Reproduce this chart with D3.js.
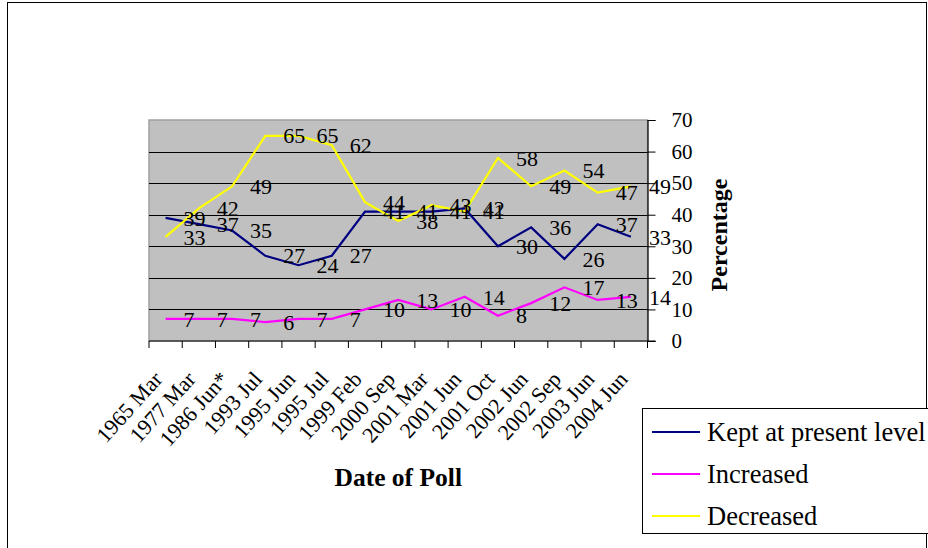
<!DOCTYPE html>
<html>
<head>
<meta charset="utf-8">
<script src="https://cdn.jsdelivr.net/npm/d3@7"></script>
<style>
html,body{margin:0;padding:0;background:#fff;}
svg{display:block;font-family:"Liberation Serif","Times New Roman",serif;}
</style>
</head>
<body>
<svg id="chart" width="928" height="548"></svg>
<script>
const categories = ["1965 Mar","1977 Mar","1986 Jun*","1993 Jul","1995 Jun","1995 Jul","1999 Feb","2000 Sep","2001 Mar","2001 Jun","2001 Oct","2002 Jun","2002 Sep","2003 Jun","2004 Jun"];
const kept      = [39,37,35,27,24,27,41,41,41,42,30,36,26,37,33];
const increased = [7,7,7,6,7,7,10,13,10,14,8,12,17,13,14];
const decreased = [33,42,49,65,65,62,44,38,43,41,58,49,54,47,49];
const yTicks = [0,10,20,30,40,50,60,70];
const seriesNames = ["Kept at present level","Increased","Decreased"];
const seriesColors = ["#000080","#ff00ff","#ffff00"];
const seriesData = [kept, increased, decreased];

const svg = d3.select("#chart");

// outer frame
svg.append("rect").attr("x",7.5).attr("y",2.5).attr("width",919).attr("height",600)
  .attr("fill","#fff").attr("stroke","#000").attr("stroke-width",1);

const plot = {left:149, right:647.5, top:120, bottom:341};
const x = d3.scaleBand().domain(categories).range([plot.left, plot.right]);
const y = d3.scaleLinear().domain([0,70]).range([plot.bottom, plot.top]);

// plot area
svg.append("rect").attr("x",plot.left).attr("y",plot.top)
  .attr("width",plot.right-plot.left).attr("height",plot.bottom-plot.top)
  .attr("fill","#c0c0c0").attr("stroke","#a0a0a0").attr("stroke-width",1.5);

// gridlines
svg.append("g").selectAll("line").data(yTicks.filter(t=>t>0 && t<70)).join("line")
  .attr("x1",plot.left).attr("x2",plot.right)
  .attr("y1",d=>Math.round(y(d))+0.5).attr("y2",d=>Math.round(y(d))+0.5)
  .attr("stroke","#000").attr("stroke-width",1);

// right y axis
const yAxis = d3.axisRight(y).tickValues(yTicks).tickSize(8).tickPadding(16);
const gy = svg.append("g").attr("transform",`translate(${plot.right},0)`).call(yAxis);
gy.select(".domain").attr("stroke","#000").attr("stroke-width",1.2);
gy.selectAll(".tick line").attr("stroke","#000");
gy.selectAll(".tick text").attr("font-size",21).attr("fill","#000")
  .attr("font-family","Liberation Serif, Times New Roman, serif");

// bottom x axis (ticks at band edges)
const bottomY = plot.bottom;
svg.append("line").attr("x1",plot.left).attr("x2",plot.right+8)
  .attr("y1",bottomY).attr("y2",bottomY).attr("stroke","#000").attr("stroke-width",1.2);
const edges = categories.map(c=>x(c)).concat([x(categories[categories.length-1])+x.bandwidth()]);
svg.append("g").selectAll("line").data(edges).join("line")
  .attr("x1",d=>d).attr("x2",d=>d).attr("y1",bottomY).attr("y2",bottomY+7)
  .attr("stroke","#000").attr("stroke-width",1);

// x tick labels
svg.append("g").selectAll("text").data(categories).join("text")
  .attr("transform",d=>`translate(${x(d)+x.bandwidth()/2-2},380) rotate(-48)`)
  .attr("text-anchor","end").attr("font-size",22).attr("fill","#000")
  .text(d=>d);

// lines
const line = d3.line().x((d,i)=>x(categories[i])+x.bandwidth()/2).y(d=>y(d));
seriesData.forEach((s,k)=>{
  svg.append("path").datum(s).attr("d",line).attr("fill","none")
    .attr("stroke",seriesColors[k]).attr("stroke-width",2.2).attr("stroke-linejoin","miter");
});

// data labels
seriesData.forEach((s,k)=>{
  svg.append("g").selectAll("text").data(s).join("text")
    .attr("x",(d,i)=>x(categories[i])+x.bandwidth()/2+18)
    .attr("y",d=>y(d))
    .attr("dy","0.35em")
    .attr("font-size",22).attr("fill","#000")
    .text(d=>d);
});

// axis titles
svg.append("text").attr("x",(plot.left+plot.right)/2).attr("y",486)
  .attr("text-anchor","middle").attr("font-weight","bold").attr("font-size",25.5)
  .text("Date of Poll");
svg.append("text").attr("transform",`translate(727,235) rotate(-90)`)
  .attr("text-anchor","middle").attr("font-weight","bold").attr("font-size",24)
  .text("Percentage");

// legend
const lg = svg.append("g");
lg.append("rect").attr("x",642.5).attr("y",408.5).attr("width",320).attr("height",125)
  .attr("fill","#fff").attr("stroke","#000").attr("stroke-width",1);
const rowsY = [432,474,516];
seriesNames.forEach((n,k)=>{
  lg.append("line").attr("x1",652).attr("x2",700).attr("y1",rowsY[k]).attr("y2",rowsY[k])
    .attr("stroke",seriesColors[k]).attr("stroke-width",2.2);
  lg.append("text").attr("x",707).attr("y",rowsY[k]).attr("dy","0.35em")
    .attr("font-size",26.5).attr("fill","#000").text(n);
});
</script>
</body>
</html>
